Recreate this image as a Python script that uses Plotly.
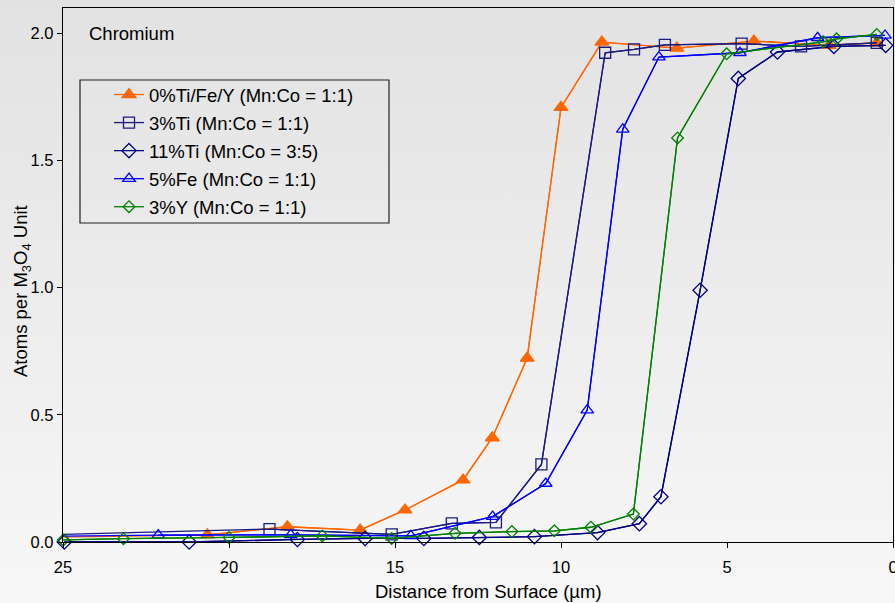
import base64
import plotly.graph_objects as go

# ---------------- data ----------------
x_ref = [25.5, 20.65, 18.24, 16.05, 14.70, 12.95, 12.07, 11.02, 10.00, 8.77, 6.51, 4.19, 1.92, 0.49]
y_ref = [0.018, 0.028, 0.060, 0.047, 0.126, 0.244, 0.410, 0.723, 1.709, 1.966, 1.942, 1.970, 1.953, 1.963]

x_ti3 = [25.5, 18.78, 15.10, 13.29, 11.96, 10.59, 8.67, 7.80, 6.87, 4.56, 2.77, 0.49]
y_ti3 = [0.028, 0.051, 0.030, 0.073, 0.077, 0.305, 1.924, 1.937, 1.955, 1.960, 1.949, 1.963]

x_ti11 = [24.96, 21.20, 17.94, 15.90, 14.13, 12.46, 10.80, 8.90, 7.64, 6.99, 5.81, 4.66, 3.48, 1.78, 0.22]
y_ti11 = [0.000, 0.000, 0.010, 0.014, 0.014, 0.018, 0.021, 0.037, 0.072, 0.178, 0.990, 1.823, 1.927, 1.949, 1.953]

x_fe5 = [25.5, 22.13, 18.14, 14.52, 12.06, 10.46, 9.21, 8.14, 7.05, 4.61, 2.27, 0.24]
y_fe5 = [0.022, 0.027, 0.028, 0.024, 0.100, 0.230, 0.519, 1.623, 1.907, 1.924, 1.983, 1.992]

x_y3 = [24.99, 23.18, 20.00, 17.19, 15.10, 13.19, 11.48, 10.20, 9.10, 7.82, 6.49, 5.01, 2.10, 1.70, 0.49]
y_y3 = [0.008, 0.013, 0.018, 0.024, 0.014, 0.034, 0.041, 0.044, 0.058, 0.110, 1.589, 1.920, 1.967, 1.979, 1.996]

series_names = [
    "0%Ti/Fe/Y (Mn:Co = 1:1)",
    "3%Ti (Mn:Co = 1:1)",
    "11%Ti (Mn:Co = 3:5)",
    "5%Fe (Mn:Co = 1:1)",
    "3%Y (Mn:Co = 1:1)",
]
x_ticks = [25, 20, 15, 10, 5, 0]
y_ticks = [0.0, 0.5, 1.0, 1.5, 2.0]

x_title = "Distance from Surface (µm)"
y_title = "Atoms per M<sub>3</sub>O<sub>4</sub> Unit"
panel_label = "Chromium"

# ---------------- styles ----------------
styles = [
    dict(color="#ff6600", symbol="triangle-up", size=12),
    dict(color="#1a1a80", symbol="square-open", size=11),
    dict(color="#000080", symbol="diamond-open", size=11),
    dict(color="#0000ff", symbol="triangle-up-open", size=11),
    dict(color="#008000", symbol="diamond-open", size=9),
]
data = [(x_ref, y_ref), (x_ti3, y_ti3), (x_ti11, y_ti11), (x_fe5, y_fe5), (x_y3, y_y3)]

XMAX = 25
fig = go.Figure()
for name, (xs, ys), st in zip(series_names, data, styles):
    # full line (clipped at the plot edge)
    fig.add_trace(go.Scatter(
        x=xs, y=ys, mode="lines", showlegend=False, legendgroup=name,
        line=dict(color=st["color"], width=1.3), hoverinfo="skip",
    ))
    xin = [a for a in xs if a <= XMAX]
    yin = [b for a, b in zip(xs, ys) if a <= XMAX]
    fig.add_trace(go.Scatter(
        x=xin, y=yin, mode="lines+markers", name=name, legendgroup=name,
        line=dict(color=st["color"], width=1.3),
        marker=dict(symbol=st["symbol"], size=st["size"], color=st["color"],
                    line=dict(color=st["color"], width=1.3)),
        cliponaxis=False,
    ))

# gradient background as inline SVG
svg = ('<svg xmlns="http://www.w3.org/2000/svg" width="100" height="100" preserveAspectRatio="none">'
       '<defs><linearGradient id="g" x1="0" y1="0" x2="0" y2="1">'
       '<stop offset="0" stop-color="#e2e2e2"/><stop offset="1" stop-color="#f7f7f7"/>'
       '</linearGradient></defs><rect width="100" height="100" fill="url(#g)"/></svg>')
src = "data:image/svg+xml;base64," + base64.b64encode(svg.encode()).decode()

W, H = 895, 603
ml, mr, mt, mb = 63, 2, 8, 61
pw, ph = W - ml - mr, H - mt - mb

def px_x(p):
    return (p - ml) / pw

def px_y(p):
    return (H - mb - p) / ph

TICK_FONT = 16.5
TEXT_FONT = 18.5

fig.update_layout(
    width=W, height=H,
    margin=dict(l=ml, r=mr, t=mt, b=mb, autoexpand=False),
    paper_bgcolor="#f0f0f0",
    plot_bgcolor="rgba(0,0,0,0)",
    font=dict(family="Liberation Sans, Arial, sans-serif", size=TEXT_FONT, color="#000000"),
    images=[dict(source=src, xref="paper", yref="paper",
                 x=px_x(0), y=px_y(0), sizex=px_x(W) - px_x(0), sizey=px_y(0) - px_y(H),
                 xanchor="left", yanchor="top", sizing="stretch", layer="below")],
    xaxis=dict(
        range=[25, 0], tickvals=x_ticks, ticktext=[str(v) for v in x_ticks],
        showgrid=False, zeroline=False, showline=True, linecolor="#000000", linewidth=1.3,
        mirror=True, ticks="outside", ticklen=5, tickcolor="#000000",
        tickfont=dict(size=TICK_FONT), ticklabelstandoff=5, ticklabeloverflow="allow",
        automargin=False,
    ),
    yaxis=dict(
        range=[0, 2.1], tickvals=y_ticks, ticktext=[f"{v:.1f}" for v in y_ticks],
        showgrid=False, zeroline=False, showline=True, linecolor="#000000", linewidth=1.3,
        mirror=True, ticks="outside", ticklen=5, tickcolor="#000000",
        tickfont=dict(size=TICK_FONT), automargin=False,
    ),
    legend=dict(
        x=px_x(109), y=px_y(76), xanchor="left", yanchor="top",
        bgcolor="rgba(0,0,0,0)", borderwidth=0, tracegroupgap=1,
        font=dict(size=TEXT_FONT),
    ),
    shapes=[dict(type="rect", xref="paper", yref="paper",
                 x0=px_x(80), x1=px_x(389), y0=px_y(223), y1=px_y(80),
                 line=dict(color="#222222", width=1.2), fillcolor="rgba(0,0,0,0)")],
    annotations=[
        dict(text=panel_label, xref="paper", yref="paper",
             x=px_x(87), y=px_y(33), xanchor="left", yanchor="middle",
             showarrow=False, font=dict(size=TEXT_FONT)),
        dict(text=x_title, xref="paper", yref="paper",
             x=px_x(488), y=px_y(591), xanchor="center", yanchor="middle",
             showarrow=False, font=dict(size=TEXT_FONT)),
        dict(text=y_title, xref="paper", yref="paper", textangle=-90,
             x=px_x(22), y=px_y(291), xanchor="center", yanchor="middle",
             showarrow=False, font=dict(size=TEXT_FONT)),
    ],
)

fig.write_html("out.html", config={"displayModeBar": False},
               post_script="document.body.style.margin='0px';document.body.style.background='#f0f0f0';")
